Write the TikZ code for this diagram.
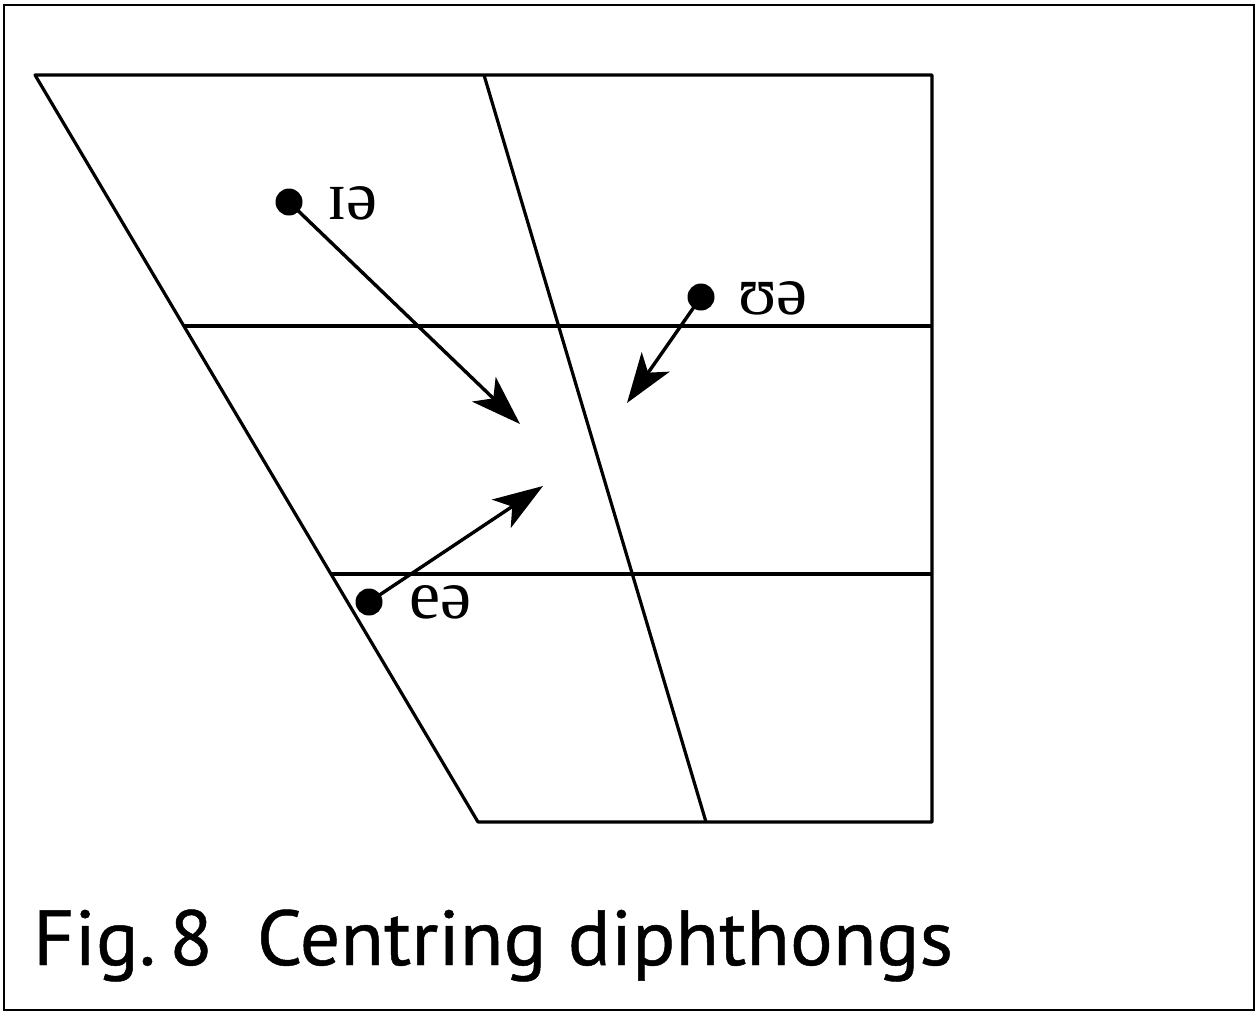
\documentclass[tikz,border=0pt]{standalone}
\usepackage{fontspec}
\setmainfont{Liberation Serif}
\newfontfamily\capfont[FakeBold=0.6]{PT Sans}
\usetikzlibrary{arrows.meta}
\begin{document}
\begin{tikzpicture}[x=1pt,y=-1pt,
  chart/.style={line width=3.2pt,line join=round},
  dotnode/.style={circle,fill=black,inner sep=0pt,minimum size=27pt},
  lbl/.style={font=\fontsize{70}{70}\selectfont,inner sep=0pt,anchor=west},
  arr/.style={line width=3.4pt,-{Stealth[length=50pt,width=34pt,inset=13pt]}}]
\useasboundingbox (0,0) rectangle (1258,1012);
\draw[line width=2.8pt] (4,5) rectangle (1254,1010);
% chart
\coordinate (tl) at (35,75);
\coordinate (tr) at (932,75);
\coordinate (br) at (932,822);
\coordinate (bl) at (478,822);
\coordinate (tm) at (484,75);
\coordinate (bm) at (706,822);
\draw[chart] (tr) -- (tl) -- (bl) -- (br) -- cycle;
\draw[chart] (tm) -- (bm);
\draw[chart] (184,326) -- (932,326);
\draw[chart] (331,574) -- (932,574);
% dots
\node[dotnode] (ia) at (289,202) {};
\node[dotnode] (ua) at (701,297) {};
\node[dotnode] (ea) at (369,602) {};
\node[lbl] (ial) at (327,203) {ɪə};
\node[lbl] (ual) at (738,298) {ʊə};
\node[lbl] (eal) at (409,602) {eə};
% arrow targets
\coordinate (t1) at (520,424);
\coordinate (t2) at (627,403);
\coordinate (t3) at (543,486);
\draw[arr] (ia.center) -- (t1);
\draw[arr] (ua.center) -- (t2);
\draw[arr] (ea.center) -- (t3);
% caption
\node[anchor=base west,inner sep=0pt,font=\capfont\fontsize{78}{78}\selectfont] (cap) at (33,965) {\scalebox{1.025}[1]{Fig.\,8\hspace{0.55em}Centring diphthongs}};
\end{tikzpicture}
\end{document}
